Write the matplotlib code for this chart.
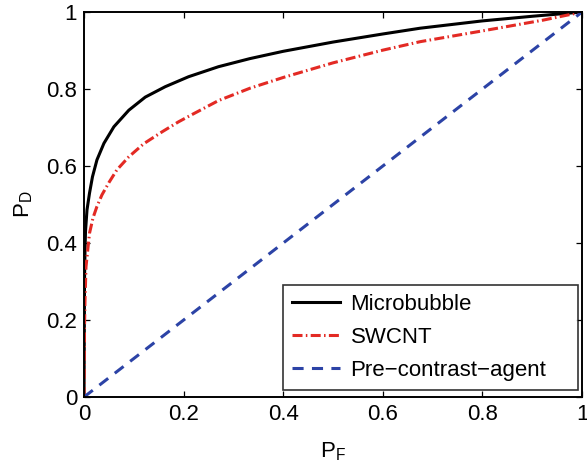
import matplotlib.pyplot as plt
import numpy as np

plt.rcParams['font.family'] = ['Liberation Sans', 'DejaVu Sans']
plt.rcParams['mathtext.fontset'] = 'custom'
plt.rcParams['mathtext.rm'] = 'Liberation Sans'
plt.rcParams['lines.scale_dashes'] = False

# ROC points (false alarm prob, detection prob)
mb_pf = [0, 0.001, 0.002, 0.003, 0.006, 0.011, 0.017, 0.026, 0.040, 0.060,
         0.090, 0.123, 0.163, 0.210, 0.27, 0.333, 0.4, 0.5, 0.6, 0.675,
         0.8, 0.9, 1.0]
mb_pd = [0, 0.30, 0.38, 0.43, 0.486, 0.529, 0.572, 0.616, 0.659, 0.702,
         0.745, 0.779, 0.806, 0.832, 0.858, 0.879, 0.898, 0.922, 0.943, 0.958,
         0.977, 0.989, 1.0]

sw_pf = [0, 0.001, 0.002, 0.004, 0.011, 0.018, 0.026, 0.036, 0.050, 0.066,
         0.090, 0.120, 0.157, 0.190, 0.213, 0.27, 0.333, 0.4, 0.5, 0.6,
         0.675, 0.8, 0.922, 1.0]
sw_pd = [0, 0.18, 0.25, 0.338, 0.425, 0.465, 0.495, 0.525, 0.557, 0.590,
         0.624, 0.658, 0.689, 0.715, 0.731, 0.770, 0.802, 0.830, 0.868, 0.901,
         0.923, 0.951, 0.979, 1.0]

pre_pf = [0, 1]
pre_pd = [0, 1]

ticks = [0, 0.2, 0.4, 0.6, 0.8, 1]
tick_labels = ['0', '0.2', '0.4', '0.6', '0.8', '1']

fig = plt.figure(figsize=(5.87, 4.63), dpi=100)
ax = fig.add_axes([0.1431, 0.1425, 0.8484, 0.8315])

ax.plot(mb_pf, mb_pd, color='black', lw=2.2, label='Microbubble')
ax.plot(sw_pf, sw_pd, color='#e32a24', lw=2.2, ls=(0, (7.2, 2.4, 1.1, 2.4)), label='SWCNT')
ax.plot(pre_pf, pre_pd, color='#2c43a6', lw=2.2, ls=(0, (8, 6)), label='Pre\u2212contrast\u2212agent')

ax.set_xlim(0, 1)
ax.set_ylim(0, 1)
ax.set_xticks(ticks)
ax.set_xticklabels(tick_labels)
ax.set_yticks(ticks)
ax.set_yticklabels(tick_labels)
ax.tick_params(direction='in', top=True, right=True, labelsize=16, length=4.3, width=0.9, pad=5)
for s in ax.spines.values():
    s.set_linewidth(1.4)

ax.set_xlabel(r'P$_\mathregular{F}$', fontsize=16, labelpad=11)
ax.set_ylabel(r'P$_\mathregular{D}$', fontsize=16, labelpad=8)

leg = ax.legend(loc='lower left', bbox_to_anchor=(0.399, 0.018, 0.592, 0.273),
                mode='expand', borderaxespad=0, fontsize=16, frameon=True,
                fancybox=False, edgecolor='black', handlelength=2.2,
                handletextpad=0.45, labelspacing=0.55, borderpad=0.4)
leg.get_frame().set_linewidth(1.2)

fig.savefig('out.png', dpi=100)
